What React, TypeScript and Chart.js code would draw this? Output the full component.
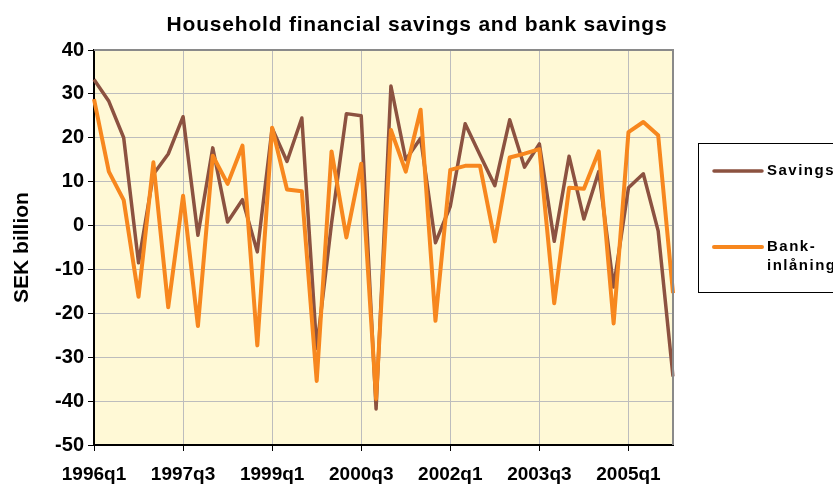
import React, { useEffect, useRef } from 'react';
import { Chart, registerables } from 'chart.js';

Chart.register(...registerables);

const quarters = [
  '1996q1', '1996q2', '1996q3', '1996q4',
  '1997q1', '1997q2', '1997q3', '1997q4',
  '1998q1', '1998q2', '1998q3', '1998q4',
  '1999q1', '1999q2', '1999q3', '1999q4',
  '2000q1', '2000q2', '2000q3', '2000q4',
  '2001q1', '2001q2', '2001q3', '2001q4',
  '2002q1', '2002q2', '2002q3', '2002q4',
  '2003q1', '2003q2', '2003q3', '2003q4',
  '2004q1', '2004q2', '2004q3', '2004q4',
  '2005q1', '2005q2', '2005q3', '2005q4',
];

const savings = [
  33.3, 28.3, 20.0, -8.5, 11.7, 16.3, 24.8, -2.2,
  17.7, 0.8, 5.9, -6.0, 22.2, 14.6, 24.5, -28.0,
  0.5, 25.5, 25.0, -41.8, 31.8, 15.0, 19.9, -3.9,
  4.4, 23.2, 16.1, 9.1, 24.1, 13.3, 18.6, -3.6,
  15.8, 1.5, 12.3, -14.0, 8.6, 11.8, -1.2, -34.4,
];

const bankDeposits = [
  28.8, 12.3, 5.8, -16.2, 14.4, -18.6, 6.8, -22.9,
  15.9, 9.5, 18.2, -27.3, 22.3, 8.2, 7.8, -35.4,
  16.9, -2.7, 14.1, -39.5, 21.8, 12.3, 26.4, -21.7,
  12.7, 13.6, 13.6, -3.6, 15.5, 16.4, 17.4, -17.7,
  8.6, 8.4, 16.9, -22.3, 21.3, 23.6, 20.6, -15.4,
];

const yTicks = { min: -50, max: 40, step: 10 };
const xLabelEvery = 6;

const TITLE = 'Household financial savings and bank savings';
const Y_TITLE = 'SEK billion';
const SERIES_NAMES = ['Savings', 'Bank-\ninlåning'];
const COLORS = { savings: '#8C5240', bank: '#F7871E', bg: '#FFF9D6', grid: '#BDBDBD' };
const FONT = "'Liberation Sans', Arial, sans-serif";

const decorPlugin = {
  id: 'decor',
  beforeDraw(chart: any) {
    const { ctx, chartArea: a } = chart;
    ctx.save();
    ctx.fillStyle = COLORS.bg;
    ctx.fillRect(a.left, a.top, a.right - a.left, a.bottom - a.top);
    ctx.restore();
  },
  afterDraw(chart: any) {
    const { ctx, chartArea: a } = chart;
    ctx.save();
    // top and right border
    ctx.strokeStyle = '#8a8a8a';
    ctx.lineWidth = 2;
    ctx.beginPath();
    ctx.moveTo(a.left, a.top);
    ctx.lineTo(a.right, a.top);
    ctx.lineTo(a.right, a.bottom);
    ctx.stroke();

    // title
    ctx.fillStyle = '#000';
    ctx.font = `bold 21px ${FONT}`;
    (ctx as any).letterSpacing = '0.8px';
    ctx.textAlign = 'center';
    ctx.textBaseline = 'alphabetic';
    ctx.fillText(TITLE, 417, 31);

    // legend
    (ctx as any).letterSpacing = '0px';
    ctx.strokeStyle = '#000';
    ctx.lineWidth = 1;
    ctx.strokeRect(698.5, 143.5, 150, 149);
    const items = [
      { color: COLORS.savings, width: 3.5, y: 171, lines: SERIES_NAMES[0].split('\n') },
      { color: COLORS.bank, width: 4, y: 247, lines: SERIES_NAMES[1].split('\n') },
    ];
    ctx.font = `bold 15px ${FONT}`;
    (ctx as any).letterSpacing = '1.5px';
    ctx.textAlign = 'left';
    ctx.textBaseline = 'middle';
    for (const it of items) {
      ctx.strokeStyle = it.color;
      ctx.lineWidth = it.width;
      ctx.lineCap = 'round';
      ctx.beginPath();
      ctx.moveTo(714, it.y);
      ctx.lineTo(762, it.y);
      ctx.stroke();
      ctx.fillStyle = '#000';
      it.lines.forEach((ln, i) => ctx.fillText(ln, 767, it.y + i * 19));
    }
    ctx.restore();
  },
};

export default function App() {
  const ref = useRef<HTMLCanvasElement | null>(null);
  useEffect(() => {
    if (!ref.current) return;
    const chart = new Chart(ref.current, {
      type: 'line',
      data: {
        labels: quarters,
        datasets: [
          {
            label: 'Savings',
            data: savings,
            borderColor: COLORS.savings,
            backgroundColor: COLORS.savings,
            borderWidth: 3.5,
            pointRadius: 0,
            tension: 0,
            borderJoinStyle: 'round',
            order: 1,
          },
          {
            label: 'Bank-inlåning',
            data: bankDeposits,
            borderColor: COLORS.bank,
            backgroundColor: COLORS.bank,
            borderWidth: 4,
            pointRadius: 0,
            tension: 0,
            borderJoinStyle: 'round',
            order: 0,
          },
        ],
      },
      options: {
        responsive: false,
        animation: false,
        devicePixelRatio: 1,
        layout: { padding: { top: 50, right: 160, bottom: 0, left: 0 } },
        plugins: {
          legend: { display: false },
          title: { display: false },
          tooltip: { enabled: false },
        },
        scales: {
          x: {
            type: 'category',
            offset: false,
            afterFit: (s: any) => { s.height = 43; },
            grid: {
              color: (c: any) => (c.index % xLabelEvery === 0 ? COLORS.grid : 'rgba(0,0,0,0)'),
              tickColor: (c: any) => (c.index % xLabelEvery === 0 ? '#000' : 'rgba(0,0,0,0)'),
              tickLength: 6,
              lineWidth: 1,
            },
            border: { color: '#000', width: 2 },
            ticks: {
              autoSkip: false,
              maxRotation: 0,
              minRotation: 0,
              padding: 12,
              color: '#000',
              font: { family: FONT, size: 19, weight: 'bold' },
              callback: (_v: any, i: number) => (i % xLabelEvery === 0 ? quarters[i] : ''),
            },
          },
          y: {
            min: yTicks.min,
            max: yTicks.max,
            afterFit: (s: any) => { s.width = 94; },
            grid: { color: COLORS.grid, tickColor: '#000', tickLength: 6, lineWidth: 1 },
            border: { color: '#000', width: 2 },
            ticks: {
              stepSize: yTicks.step,
              padding: 4,
              color: '#000',
              font: { family: FONT, size: 20, weight: 'bold' },
            },
            title: {
              display: true,
              text: Y_TITLE,
              color: '#000',
              padding: { top: 10, bottom: 0 },
              font: { family: FONT, size: 21, weight: 'bold' },
            },
          },
        },
      },
      plugins: [decorPlugin],
    } as any);
    return () => chart.destroy();
  }, []);

  return (
    <div style={{ position: 'absolute', left: 0, top: 0, width: 833, height: 488, background: '#fff' }}>
      <canvas ref={ref} width={833} height={488} style={{ display: 'block' }} />
    </div>
  );
}
